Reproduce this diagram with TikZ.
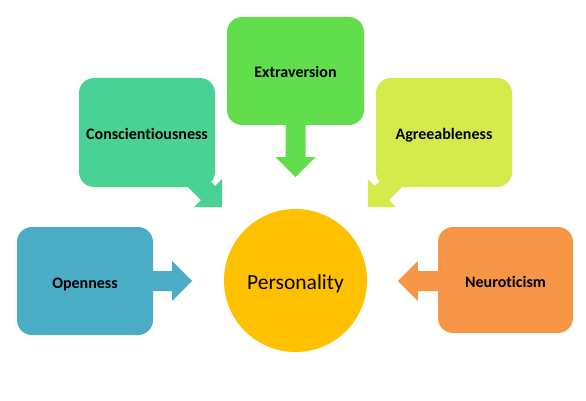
\documentclass[tikz,border=0pt]{standalone}
\usepackage{fontspec}
\setmainfont{Carlito}[Ligatures=NoCommon]
\usetikzlibrary{calc}
\definecolor{openc}{RGB}{75,172,198}
\definecolor{consc}{RGB}{74,210,149}
\definecolor{extrc}{RGB}{98,221,76}
\definecolor{agreec}{RGB}{212,235,75}
\definecolor{neuroc}{RGB}{247,150,70}
\definecolor{persc}{RGB}{255,192,0}
\begin{document}
\begin{tikzpicture}[x=1pt,y=-1pt,
  trait/.style={rounded corners=15pt, minimum width=136pt, minimum height=108pt,
    inner sep=0pt, text=black, text height=16pt, text depth=2pt,
    font=\fontsize{16}{18}\selectfont\bfseries},
  barrow/.pic={\path[pic actions] (-#1,-10) -- (-20,-10) -- (-20,-20) -- (0,0)
    -- (-20,20) -- (-20,10) -- (-#1,10) -- cycle;}]
\useasboundingbox (0,0) rectangle (586,401);
% boxes
\node[trait, fill=openc] (open) at (85,281) {Openness};
\node[trait, fill=consc, minimum height=109pt] (consc) at (147,132.5) {Conscientiousness};
\node[trait, fill=extrc, minimum width=137pt] (extra) at (295.5,71) {Extraversion};
\node[trait, fill=agreec, minimum height=109pt] (agree) at (444,132.5) {Agreeableness};
\node[trait, fill=neuroc, minimum width=135pt, minimum height=106pt] (neuro) at (505.5,280) {Neuroticism};
% centre
\node[circle, fill=persc, minimum size=143pt, inner sep=0pt, text height=20pt, text depth=2pt,
  font=\fontsize{21.5}{24}\selectfont] (pers) at (295.5,280.5) {Personality};
% arrow tips
\coordinate (t-open) at ($(open.east)+(39,0)$);
\coordinate (t-extra) at ($(extra.south)+(0,52)$);
\coordinate (t-consc) at ($(consc.south east)+(7,20)$);
\coordinate (t-agree) at ($(agree.south west)+(-8,20)$);
\coordinate (t-neuro) at ($(neuro.west)+(-40,1)$);
% block arrows
\pic[fill=openc] at (t-open) {barrow=45};
\pic[fill=extrc, rotate=-90] at (t-extra) {barrow=60};
\pic[fill=consc, rotate=-45] at (t-consc) {barrow=38};
\pic[fill=agreec, rotate=-135] at (t-agree) {barrow=38};
\pic[fill=neuroc, rotate=180] at (t-neuro) {barrow=46};
\end{tikzpicture}
\end{document}
